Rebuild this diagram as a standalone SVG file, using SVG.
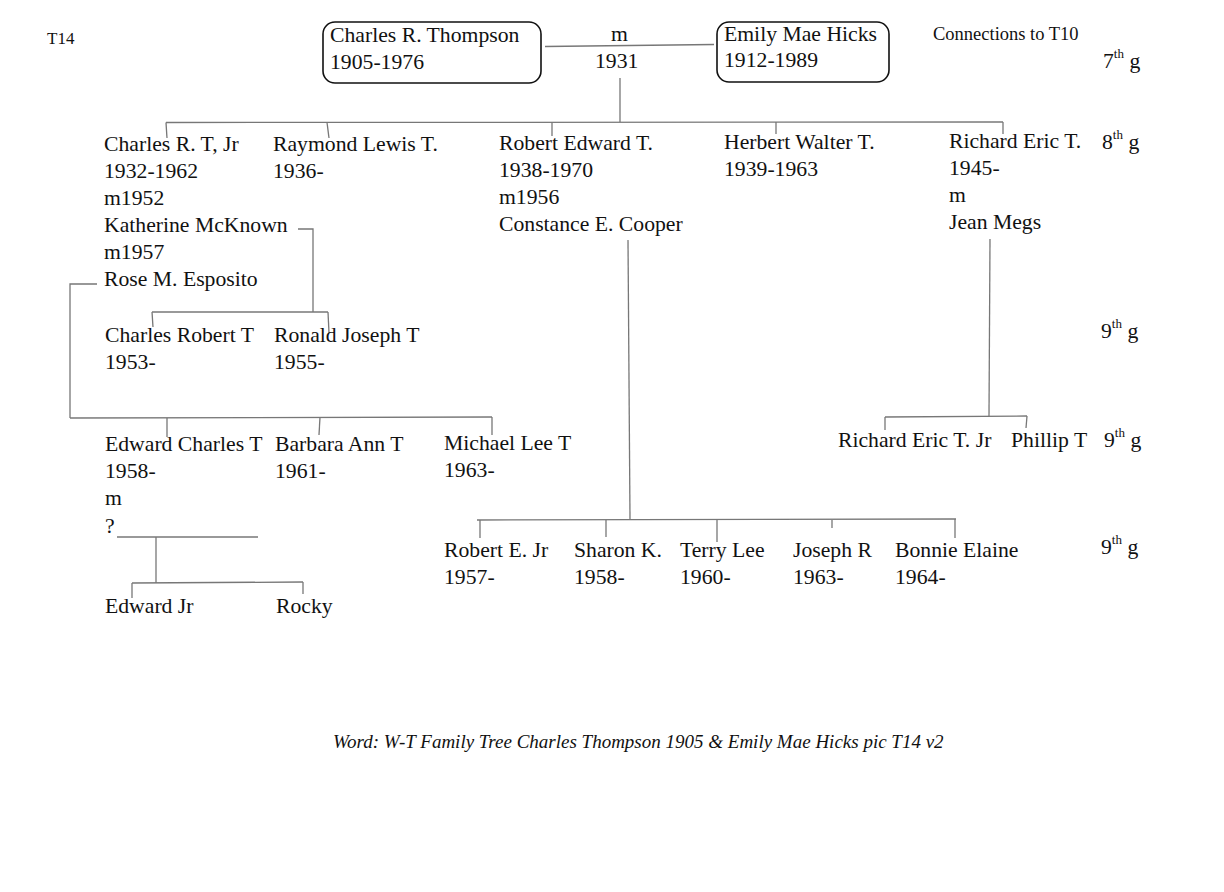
<svg xmlns="http://www.w3.org/2000/svg" width="1224" height="892" viewBox="0 0 1224 892">
<style>
text{font-family:"Liberation Serif","Times New Roman",serif;fill:#111;font-size:21.7px}
.sm{font-size:18.5px}
.t14{font-size:17px}
.sup{font-size:13px}
.foot{font-size:19px;font-style:italic}
.box{fill:none;stroke:#111;stroke-width:1.6}
#connectors line,#connectors polyline{stroke:#777;stroke-width:1.3;fill:none}
</style>
<rect width="1224" height="892" fill="#fff"/>
<text class="t14" x="47" y="44">T14</text>
<text class="sm" x="933" y="40">Connections to T10</text>
<g id="gen-labels">
<text x="1103" y="68">7<tspan class="sup" dy="-10">th</tspan><tspan dy="10"> g</tspan></text>
<text x="1102" y="149">8<tspan class="sup" dy="-10">th</tspan><tspan dy="10"> g</tspan></text>
<text x="1101" y="338">9<tspan class="sup" dy="-10">th</tspan><tspan dy="10"> g</tspan></text>
<text x="1104" y="447">9<tspan class="sup" dy="-10">th</tspan><tspan dy="10"> g</tspan></text>
<text x="1101" y="554">9<tspan class="sup" dy="-10">th</tspan><tspan dy="10"> g</tspan></text>
</g>
<g id="connectors">
<line x1="545" y1="46.5" x2="714" y2="44.5"/>
<line x1="620" y1="78" x2="620" y2="122"/>
<line x1="166" y1="122.5" x2="1003" y2="122"/>
<line x1="166" y1="122.5" x2="167" y2="138"/>
<line x1="327" y1="122.5" x2="329" y2="138"/>
<line x1="552" y1="122" x2="552" y2="136"/>
<line x1="776" y1="122" x2="776" y2="134"/>
<line x1="1003" y1="122" x2="1003" y2="134"/>
<polyline points="298,229 313,229 313,312"/>
<line x1="152" y1="312" x2="328" y2="312"/>
<line x1="152" y1="312" x2="153" y2="327"/>
<line x1="328" y1="312" x2="329" y2="333"/>
<polyline points="97,284 70,284 70,418"/>
<line x1="70" y1="418" x2="492" y2="417"/>
<line x1="167" y1="418" x2="167" y2="437"/>
<line x1="320" y1="417" x2="319" y2="435"/>
<line x1="492" y1="417" x2="492" y2="435"/>
<line x1="117" y1="537" x2="258" y2="537"/>
<line x1="156" y1="537" x2="156" y2="583"/>
<line x1="132" y1="583" x2="303" y2="582"/>
<line x1="132" y1="583" x2="132" y2="598"/>
<line x1="303" y1="582" x2="303" y2="594"/>
<line x1="628" y1="240" x2="630" y2="519"/>
<line x1="477" y1="520" x2="956" y2="519"/>
<line x1="480" y1="520" x2="480" y2="538"/>
<line x1="606" y1="520" x2="606" y2="537"/>
<line x1="717" y1="520" x2="717" y2="542"/>
<line x1="832" y1="520" x2="832" y2="528"/>
<line x1="955" y1="519" x2="955" y2="538"/>
<line x1="990" y1="239" x2="989" y2="416"/>
<line x1="885" y1="417" x2="1027" y2="416"/>
<line x1="885" y1="417" x2="885" y2="430"/>
<line x1="1027" y1="416" x2="1026" y2="428"/>
</g>
<g id="charles-thompson">
<rect class="box" x="323" y="22" width="218" height="61" rx="12"/>
<text x="330" y="42">Charles R. Thompson</text>
<text x="330" y="69">1905-1976</text>
</g>
<g id="marriage">
<text x="611" y="41">m</text>
<text x="595" y="68">1931</text>
</g>
<g id="emily-hicks">
<rect class="box" x="717" y="22" width="172" height="60" rx="12"/>
<text x="724" y="41">Emily Mae Hicks</text>
<text x="724" y="67">1912-1989</text>
</g>
<g id="charles-jr">
<text x="104" y="151">Charles R. T, Jr</text>
<text x="104" y="178">1932-1962</text>
<text x="104" y="205">m1952</text>
<text x="104" y="232">Katherine McKnown</text>
<text x="104" y="259">m1957</text>
<text x="104" y="286">Rose M. Esposito</text>
</g>
<g id="raymond">
<text x="273" y="151">Raymond Lewis T.</text>
<text x="273" y="178">1936-</text>
</g>
<g id="robert">
<text x="499" y="150">Robert Edward T.</text>
<text x="499" y="177">1938-1970</text>
<text x="499" y="204">m1956</text>
<text x="499" y="231">Constance E. Cooper</text>
</g>
<g id="herbert">
<text x="724" y="149">Herbert Walter T.</text>
<text x="724" y="176">1939-1963</text>
</g>
<g id="richard">
<text x="949" y="148">Richard Eric T.</text>
<text x="949" y="175">1945-</text>
<text x="949" y="202">m</text>
<text x="949" y="229">Jean Megs</text>
</g>
<g id="charles-robert">
<text x="105" y="342">Charles Robert T</text>
<text x="105" y="369">1953-</text>
</g>
<g id="ronald">
<text x="274" y="342">Ronald Joseph T</text>
<text x="274" y="369">1955-</text>
</g>
<g id="edward">
<text x="105" y="451">Edward Charles T</text>
<text x="105" y="478">1958-</text>
<text x="105" y="505">m</text>
<text x="105" y="533">?</text>
</g>
<g id="barbara">
<text x="275" y="451">Barbara Ann T</text>
<text x="275" y="478">1961-</text>
</g>
<g id="michael">
<text x="444" y="450">Michael Lee T</text>
<text x="444" y="477">1963-</text>
</g>
<g id="edward-jr"><text x="105" y="613">Edward Jr</text></g>
<g id="rocky"><text x="276" y="613">Rocky</text></g>
<g id="richard-jr"><text x="838" y="447">Richard Eric T. Jr</text></g>
<g id="phillip"><text x="1011" y="447">Phillip T</text></g>
<g id="robert-jr"><text x="444" y="557">Robert E. Jr</text><text x="444" y="584">1957-</text></g>
<g id="sharon"><text x="574" y="557">Sharon K.</text><text x="574" y="584">1958-</text></g>
<g id="terry"><text x="680" y="557">Terry Lee</text><text x="680" y="584">1960-</text></g>
<g id="joseph"><text x="793" y="557">Joseph R</text><text x="793" y="584">1963-</text></g>
<g id="bonnie"><text x="895" y="557">Bonnie Elaine</text><text x="895" y="584">1964-</text></g>
<text class="foot" x="333" y="748">Word: W-T Family Tree Charles Thompson 1905 &amp; Emily Mae Hicks pic T14 v2</text>
</svg>
